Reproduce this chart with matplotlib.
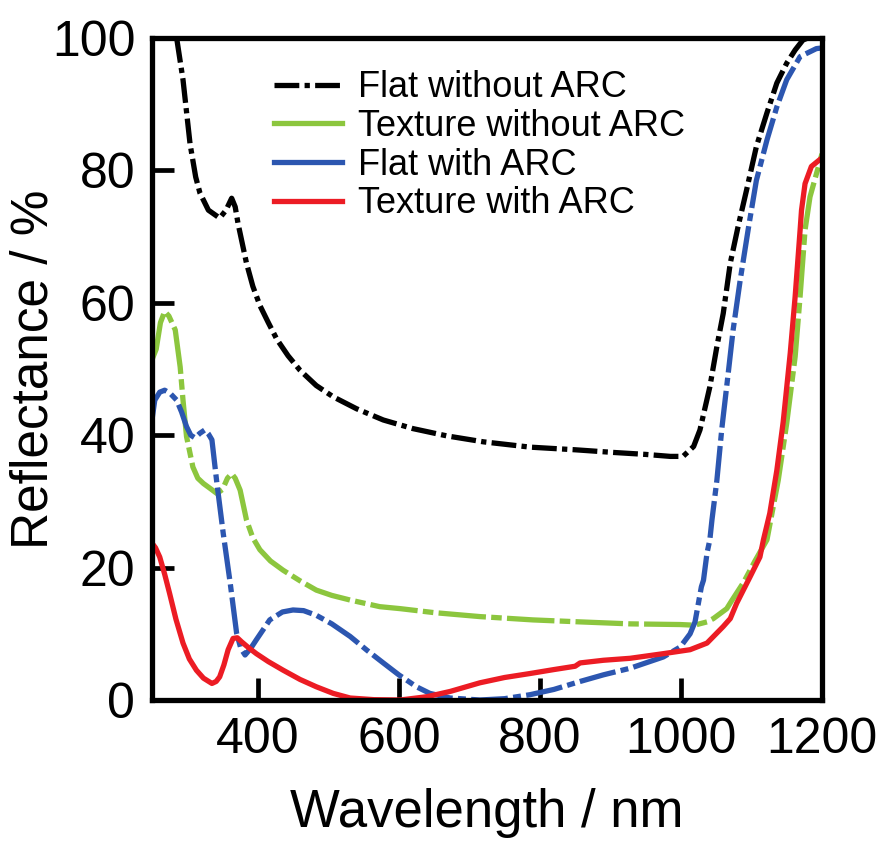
import matplotlib
matplotlib.use('Agg')
import matplotlib.pyplot as plt
from matplotlib.lines import Line2D

plt.rcParams['font.family'] = ['Liberation Sans', 'DejaVu Sans']

# Flat without ARC (black)
flat_noarc_x = [285, 294, 304, 312, 318, 330, 346, 355, 363, 368, 372, 378, 384, 393, 403, 415, 427, 443,
                460, 483, 507, 540, 578, 620, 668, 720, 786, 850, 904, 950, 985, 1003, 1018, 1027, 1041,
                1051, 1060, 1070, 1081, 1093, 1107, 1122, 1136, 1150, 1162, 1173, 1180]
flat_noarc_y = [100, 93.7, 84, 79, 76.6, 74, 72.8, 74, 75.8, 74.5, 72, 69, 66, 62.5, 59.6, 57, 54.5, 52,
                49.8, 47.5, 45.8, 44, 42.3, 41, 39.9, 39, 38.2, 37.8, 37.4, 37.1, 36.8, 36.8, 38.3, 40.8, 47.3,
                53.4, 58.4, 66, 71.5, 77, 83.6, 88.7, 93.2, 96.2, 98.2, 99.7, 100]

# Texture without ARC (green)
tex_noarc_x = [250, 256, 262, 268, 274, 283, 290, 294, 299, 308, 315, 323, 332, 342, 350, 357, 363, 368,
               375, 384, 393, 403, 418, 436, 460, 483, 505, 531, 573, 602, 650, 715, 790, 857, 928, 999,
               1019, 1037, 1046, 1065, 1072, 1089, 1105, 1122, 1138, 1150, 1162, 1169, 1176, 1183, 1200]
tex_noarc_y = [51.4, 53, 57, 58.7, 58, 55.9, 50.3, 45.3, 39.8, 35.2, 33.5, 32.7, 32, 31.2, 31.8, 33.5, 34.2,
               33.5, 31.7, 27.2, 24.5, 22.7, 21, 19.6, 18, 16.6, 15.8, 15.1, 14.1, 13.8, 13.2, 12.6, 12.1,
               11.8, 11.5, 11.4, 11.3, 11.8, 12.3, 13.8, 15, 17.8, 21, 24.2, 33.2, 41.8, 51.9, 61, 71, 76,
               82.5]

# Flat with ARC (blue)
flat_arc_x = [250, 254, 261, 268, 276, 285, 292, 299, 305, 311, 318, 325, 330, 335, 342, 351, 361, 370,
              376, 382, 390, 398, 417, 435, 450, 465, 483, 505, 531, 555, 578, 600, 625, 644, 673, 715,
              750, 786, 820, 857, 890, 928, 975, 999, 1013, 1020, 1029, 1032, 1037, 1041, 1044, 1051,
              1058, 1067, 1074, 1084, 1096, 1107, 1122, 1136, 1150, 1169, 1192, 1200]
flat_arc_y = [42.3, 45.3, 46.5, 46.8, 46.3, 45.3, 43.5, 41.3, 40, 39.6, 40.3, 40.8, 40.2, 39.3, 32.8, 25.2,
              17.6, 10.1, 7.8, 6.8, 7.8, 9.1, 12.1, 13.3, 13.6, 13.5, 12.8, 11.5, 9.6, 7.5, 5.6, 3.8, 2.0,
              1.0, 0.3, 0, 0.2, 0.8, 1.6, 2.8, 3.8, 4.8, 6.5, 8, 10, 11.8, 17.1, 18.1, 22.2, 24.2, 27.2,
              33.2, 41, 49.3, 55.9, 63.4, 71.5, 78.5, 84.6, 89.6, 93.7, 97.2, 98.4, 98.5]

# Texture with ARC (red)
tex_arc_x = [250, 255, 261, 268, 275, 284, 294, 303, 313, 323, 335, 341, 346, 352, 358, 365, 371, 377,
             387, 398, 415, 436, 460, 483, 507, 531, 565, 602, 640, 673, 715, 750, 786, 820, 850, 857,
             890, 928, 975, 1013, 1037, 1060, 1070, 1079, 1098, 1112, 1117, 1126, 1136, 1145, 1155, 1162,
             1169, 1171, 1176, 1185, 1200]
tex_arc_y = [23.7, 23, 21.6, 19, 16.1, 12.2, 8.6, 6.2, 4.5, 3.3, 2.5, 2.8, 3.5, 5.3, 7.6, 9.3, 9.4, 8.8,
             7.9, 7.0, 5.8, 4.5, 3.1, 2.0, 1.0, 0.3, 0.05, 0, 0.5, 1.3, 2.6, 3.4, 4, 4.6, 5.1, 5.6, 6,
             6.3, 7, 7.6, 8.6, 11.1, 12.3, 14.6, 18.6, 21.6, 24.2, 28.2, 34.7, 42, 52.4, 61, 71, 74, 78,
             80.6, 81.9]

labels = ['Flat without ARC', 'Texture without ARC', 'Flat with ARC', 'Texture with ARC']
colors = ['#000000', '#8cc63e', '#2c56b0', '#ec1c24']
black_ls = (0, (4.7, 1.0, 1.0, 1.0))

fig = plt.figure(figsize=(8.81, 8.49), dpi=100)
ax = fig.add_axes([0.1725, 0.1755, 0.7605, 0.7797])

lw = 3.8
ax.plot(flat_noarc_x, flat_noarc_y, color=colors[0], lw=lw, linestyle=black_ls)
ax.plot(tex_noarc_x, tex_noarc_y, color=colors[1], lw=lw, linestyle=(0, (9, 1.0, 2, 1.0)))
ax.plot(flat_arc_x, flat_arc_y, color=colors[2], lw=lw, linestyle=(0, (7, 1.0, 1.5, 1.0)))
ax.plot(tex_arc_x, tex_arc_y, color=colors[3], lw=lw)

ax.set_xlim(250, 1200)
ax.set_ylim(0, 100)
ax.set_xticks([400, 600, 800, 1000, 1200])
ax.set_yticks([0, 20, 40, 60, 80, 100])
ax.tick_params(direction='in', length=16, width=3.4, labelsize=36, pad=12)
for s in ax.spines.values():
    s.set_linewidth(3.8)

ax.set_xlabel('Wavelength / nm', fontsize=38, labelpad=18)
ax.set_ylabel('Reflectance / %', fontsize=37)
ax.yaxis.set_label_coords(-0.14, 0.5)

handles = [Line2D([], [], color=colors[0], lw=lw, linestyle=black_ls)]
for c in colors[1:]:
    handles.append(Line2D([], [], color=c, lw=lw))
ax.legend(handles, labels, loc='upper left', bbox_to_anchor=(0.16, 0.973), frameon=False, fontsize=26,
          handlelength=1.9, handletextpad=0.45, labelspacing=0.1, borderaxespad=0)

fig.savefig('out.png', dpi=100)
